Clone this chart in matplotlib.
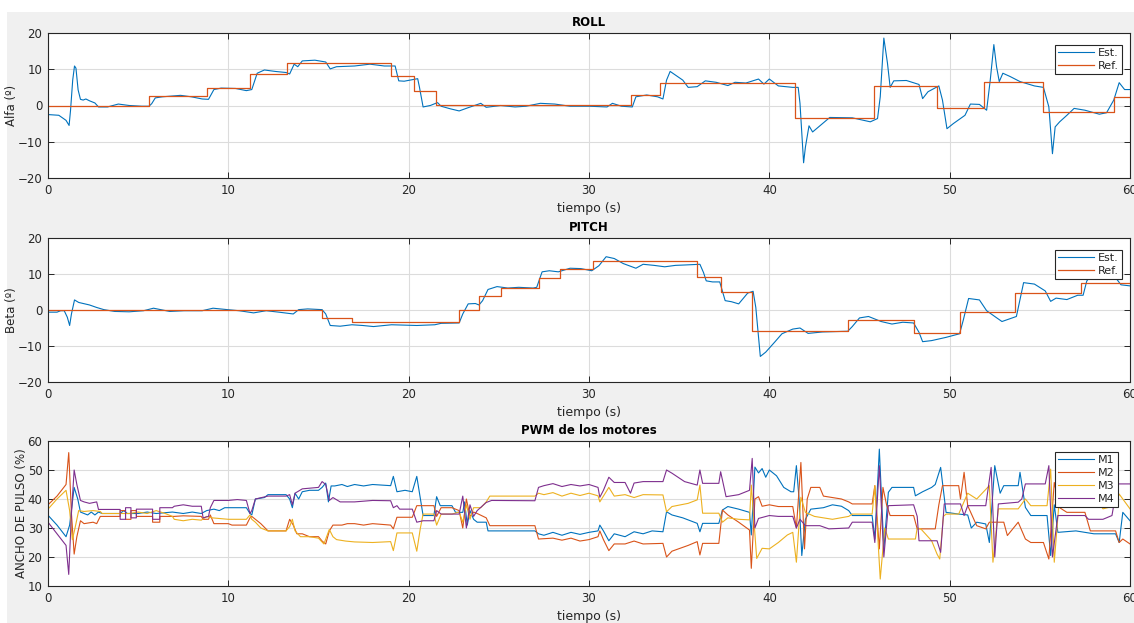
import numpy as np
import matplotlib
matplotlib.use("Agg")
import matplotlib.pyplot as plt
from matplotlib.patches import Rectangle

# ---------------- data ----------------
roll_est = [(0,-2.5),(0.6,-2.7),(1.0,-4.1),(1.17,-5.5),(1.25,-1.3),(1.37,7),(1.47,10.9),(1.55,10.3),
    (1.67,4.3),(1.8,1.7),(1.95,1.5),(2.1,1.8),(2.3,1.3),(2.6,0.7),(2.8,-0.4),(3.3,-0.4),(3.9,0.4),
    (4.5,0),(5.2,-0.2),(5.6,-0.2),(5.75,0.5),(5.95,2.1),(6.35,2.4),(7.35,2.8),(7.95,2.4),(8.55,1.8),
    (8.9,1.7),(9.2,4.4),(9.6,4.8),(10.4,4.7),(11.0,4.1),(11.3,4.4),(11.6,8.9),(12.0,9.8),(12.6,9.4),
    (13.2,9.1),(13.4,8.7),(13.65,11.4),(13.85,10.7),(14.1,12.3),(14.8,12.5),(15.4,12.0),(15.65,10.1),
    (16.0,10.7),(17.0,10.9),(17.85,11.4),(18.65,10.9),(19.25,10.9),(19.45,6.8),(19.75,6.7),(20.5,7.4),
    (20.6,5.0),(20.8,-0.4),(21.2,0),(21.6,0.8),(21.8,-0.2),(22.3,-0.9),(22.8,-1.5),(23.3,-0.6),
    (24.0,0.6),(24.3,-0.5),(25.1,0),(25.9,-0.4),(26.5,-0.2),(27.3,0.6),(28.1,0.4),(28.95,-0.2),
    (30,-0.2),(31,-0.4),(31.3,0.6),(31.8,-0.2),(32.4,-0.4),(32.6,2.4),(33.2,2.9),(33.8,2.4),(34.1,1.8),
    (34.3,7.0),(34.5,9.4),(35.2,7.0),(35.5,5.0),(36.0,5.2),(36.45,6.8),(37.05,6.4),(37.7,5.5),(38.1,6.4),
    (38.7,6.2),(39.4,7.3),(39.7,5.9),(40.0,7.3),(40.5,5.4),(41.3,5.0),(41.6,5.0),(41.7,0.6),(41.9,-15.8),
    (42.0,-11.5),(42.2,-5.6),(42.4,-7.3),(42.95,-5.0),(43.35,-3.3),(44.6,-3.4),(45.6,-4.5),(46.0,-3.6),
    (46.15,2.4),(46.35,18.6),(46.55,11.7),(46.7,5.0),(46.9,6.8),(47.6,6.9),(48.3,5.8),(48.5,1.9),
    (48.8,3.8),(49.4,5.4),(49.6,1.5),(49.85,-6.4),(50.2,-5.0),(50.85,-2.7),(51.15,0.4),(51.65,0.3),
    (52.05,-1.3),(52.25,7.0),(52.45,16.8),(52.6,10.7),(52.75,6.6),(52.95,8.9),(53.35,8.0),(53.9,6.6),
    (54.7,5.4),(55.2,5.0),(55.5,-0.4),(55.7,-13.3),(55.85,-5.9),(56.1,-4.5),(56.5,-2.7),(56.9,-0.8),
    (57.5,-1.3),(58.3,-2.4),(58.7,-2.0),(59.1,1.5),(59.4,6.3),(59.7,4.4),(60,4.4)]

roll_ref_t = [0, 5.6, 8.8, 11.2, 13.25, 19.0, 20.3, 21.5, 32.35, 33.95, 41.45, 45.8, 49.3, 51.9, 55.2, 59.1, 60]
roll_ref_v = [0, 2.6, 4.9, 8.7, 11.6, 8.2, 3.9, 0.2, 3.0, 6.1, -3.5, 5.5, -0.8, 6.4, -1.9, 2.4, 2.4]

pitch_est = [(0,-0.6),(0.5,-0.6),(0.7,-0.2),(0.9,-0.2),(1.07,-2.0),(1.2,-4.3),(1.3,-1.1),(1.47,2.8),
    (1.7,2.1),(2.3,1.4),(2.7,0.7),(3.1,0.1),(3.7,-0.4),(4.5,-0.5),(5.3,-0.2),(5.85,0.5),(6.35,0),
    (6.75,-0.4),(7.55,-0.2),(8.55,-0.2),(9.15,0.5),(9.95,0.1),(10.6,-0.2),(11.4,-0.8),(12.1,-0.2),
    (12.8,-0.6),(13.6,-1.1),(13.9,0.1),(14.4,0.3),(15.2,0.1),(15.4,-1.1),(15.65,-4.3),(16.2,-4.5),
    (16.85,-4.1),(17.45,-4.3),(18.05,-4.6),(19.05,-4.1),(20.45,-4.3),(21.45,-4.1),(21.8,-3.7),
    (22.8,-3.6),(23.0,-1.1),(23.3,1.7),(23.7,1.8),(23.9,1.4),(24.1,2.6),(24.4,5.7),(24.9,6.5),
    (25.5,6.1),(26.1,6.3),(26.9,6.1),(27.1,6.3),(27.4,10.6),(27.8,10.9),(28.3,10.6),(28.95,11.6),
    (29.55,11.5),(30.15,10.9),(30.55,12.3),(30.95,14.8),(31.4,14.3),(31.9,12.9),(32.6,11.6),(33.0,12.7),
    (33.6,12.4),(34.2,12.0),(34.8,12.4),(35.3,12.5),(36.15,12.7),(36.35,10.4),(36.5,8.1),(36.85,7.8),
    (37.25,7.8),(37.55,2.6),(37.9,2.3),(38.3,1.7),(38.8,4.7),(39.1,5.2),(39.25,0.7),(39.5,-12.9),
    (39.8,-11.7),(40.3,-8.9),(40.7,-6.6),(41.3,-5.3),(41.7,-5.0),(42.15,-6.5),(42.95,-6.1),(44.35,-5.9),
    (44.6,-4.6),(45.0,-2.2),(45.5,-1.8),(46.2,-3.2),(46.8,-3.9),(47.4,-3.4),(48.0,-3.6),(48.3,-6.2),
    (48.5,-8.8),(49.0,-8.5),(49.8,-7.6),(50.55,-6.6),(50.75,-2.9),(51.05,3.2),(51.65,2.8),(52.05,-0.2),
    (52.5,-1.8),(52.9,-3.2),(53.3,-2.5),(53.7,-1.8),(54.1,7.6),(54.7,7.2),(55.3,5.3),(55.6,2.4),
    (55.9,3.3),(56.5,2.9),(57.1,4.1),(57.4,4.1),(57.6,8.0),(57.9,10.3),(58.5,10.5),(59.2,9.0),
    (59.5,7.0),(60,6.7)]

pitch_ref_t = [0, 15.2, 16.85, 22.8, 23.9, 25.1, 27.2, 28.4, 30.2, 36.0, 37.3, 39.05, 44.35, 48.0, 50.6, 53.6, 57.3, 60]
pitch_ref_v = [0, -2.3, -3.4, 0, 4.0, 6.2, 9.0, 11.4, 13.5, 9.2, 5.1, -5.9, -2.7, -6.4, -0.6, 4.6, 7.5, 7.5]

m1 = [(0,34.4),(0.5,31),(1.0,27),(1.2,31),(1.45,44),(1.65,40),(1.8,35.5),(2.2,34.5),(2.4,35.5),
    (2.6,34.5),(2.8,35.5),(3.0,35),(4.0,35),(4.2,36),(4.4,35),(5.0,35),(5.5,35.5),(6.0,35),(6.9,35.5),
    (7.5,35),(8.0,35.5),(8.5,35),(8.8,36),(9.2,36.5),(9.5,36),(9.8,37),(11.0,37),(11.2,35),(11.3,34.5),
    (11.5,40),(12.0,40.5),(12.2,41.5),(13.2,41.5),(13.4,40),(13.55,37),(13.7,42),(13.9,40),(14.1,42.5),
    (14.5,43),(15.0,43),(15.2,44),(15.4,45.5),(15.55,39),(15.7,44.5),(15.9,44.5),(16.3,45),(16.6,44.3),
    (17.0,45),(17.5,44.5),(18.0,45),(19.0,44.6),(19.15,47.8),(19.35,42.5),(19.8,43),(20.2,42.5),
    (20.45,47.8),(20.65,40),(20.8,34.3),(21.4,34.3),(21.55,40.8),(21.75,37.7),(22.4,37.7),(22.6,35.4),
    (23.0,35.4),(23.1,39),(23.25,31),(23.4,36),(23.6,33),(23.8,32),(24.3,32),(24.4,29),(27.0,29),
    (27.2,28),(27.5,27.5),(28,28.5),(28.5,27.5),(29,28.5),(29.5,27.8),(30.0,28.5),(30.5,29),(30.6,31),
    (30.8,29),(31.1,25.6),(31.4,28),(32,27),(32.5,28.7),(33,28),(33.5,29),(34.1,28.7),(34.3,35.6),
    (34.6,34.5),(35.2,33.5),(36.0,31.6),(36.15,28.7),(36.3,31.6),(37.2,31.6),(37.4,36.2),(37.7,37.4),
    (38.3,36.5),(38.9,35.4),(39.0,27.6),(39.2,51),(39.4,49),(39.6,50.5),(39.8,47.5),(40.0,50),
    (40.4,48),(40.8,44),(41.2,42.5),(41.35,42.5),(41.5,51.5),(41.65,40),(41.8,20.5),(42.0,33),
    (42.3,36.5),(43.0,37),(43.5,38),(44.0,37.5),(44.4,36),(44.6,34.3),(45.7,34.3),(45.85,26.2),
    (46.1,57.2),(46.35,22.8),(46.6,42.3),(46.8,44),(48.0,44),(48.1,41.1),(48.5,42.5),(49.0,44),
    (49.2,45),(49.5,50.9),(49.8,35.4),(50.5,34.8),(51.0,34.5),(51.2,30),(51.5,32),(52.0,31.4),
    (52.2,25),(52.5,51.5),(52.8,42),(53.0,44.6),(53.8,44.6),(53.9,49.2),(54.2,37.1),(54.5,34.3),
    (55.4,34.3),(55.6,20.5),(55.8,38),(56.0,28.5),(57.0,29),(58.0,28),(59.2,28),(59.4,25),(59.6,35.4),
    (60.0,32.5)]

m2 = [(0,38),(0.5,41),(1.0,45),(1.15,56),(1.3,35),(1.45,21),(1.6,27),(1.8,32.5),(2.0,31.5),(2.5,32),
    (2.7,31.5),(2.9,34),(4.0,34),(4.0,36),(4.3,36),(4.3,33),(4.6,33),(4.6,36),(4.9,36),(4.9,34),(5.8,34),
    (5.8,32),(6.2,32),(6.2,34),(7.0,34),(7.5,34.2),(8.5,34),(8.6,33),(8.9,33),(9.0,34.5),(9.2,31.5),
    (10.0,31.5),(10.2,31),(11.0,31),(11.2,33.5),(11.3,34),(11.5,33),(11.8,31.5),(12.2,29),(13.2,29),
    (13.4,33),(13.6,31),(13.8,28),(14.1,28),(14.5,27),(15.0,27),(15.2,25.5),(15.4,24.5),(15.6,29),
    (15.8,31),(16.3,31),(16.6,31.5),(17.0,31.5),(17.5,31),(18.0,31.5),(19.0,31),(19.15,29.7),
    (19.35,33.7),(20.2,33.7),(20.45,37.7),(21.4,37.7),(21.55,34),(21.8,37),(22.4,37),(22.8,36),
    (23.0,30),(23.2,40),(23.4,34),(23.6,35.5),(23.8,35),(24.3,33.5),(24.5,30.8),(27.0,30.8),(27.2,26.2),
    (28,26.5),(28.5,25.8),(29,26.5),(29.5,25.5),(30,26),(30.5,27),(30.6,29),(30.8,26),(31.1,22.2),
    (31.4,24.5),(32,24.5),(32.5,25.5),(33,24.5),(34.1,24.7),(34.3,20),(34.6,22),(35.5,24),(36.0,25.3),
    (36.15,20.7),(36.3,24.7),(37.2,24.7),(37.4,36.2),(37.7,34.5),(38.3,32),(38.9,29.3),(39.0,16.1),
    (39.2,40),(39.4,40.8),(39.6,37.5),(40,38),(40.5,37.4),(41.3,37.4),(41.5,30),(41.75,52.6),
    (41.95,22.8),(42.1,40),(42.3,44),(42.8,44),(43.0,41),(43.5,40.5),(44.0,40),(44.4,39),(44.6,38.3),
    (45.7,38.3),(45.85,44.6),(46.1,22.8),(46.3,44),(46.5,38),(46.7,34.3),(48.0,34.3),(48.2,29.7),
    (49.2,29.7),(49.4,38),(49.6,44.6),(50.5,44.6),(50.6,40),(50.8,49.2),(51.0,37.7),(51.5,30.8),
    (52.0,29.7),(52.2,32),(53.0,32),(53.2,27.4),(53.8,32),(54.2,26.2),(54.5,25),(55.2,25),(55.5,19.3),
    (55.8,45.7),(56.1,37),(56.5,35.4),(57.5,35.4),(57.8,29),(59.2,29),(59.4,25),(59.6,26.2),(60,24.5)]

m3 = [(0,36.5),(0.5,40),(1.0,43),(1.2,36),(1.35,26),(1.5,30),(1.7,36),(2.0,35.7),(2.5,36),(2.9,35.7),
    (3.0,35),(4.5,35),(5.0,35.5),(5.5,35),(6.0,36),(6.5,35),(6.9,34),(7.0,33),(7.5,32.5),(8.0,33),
    (8.5,32.7),(8.8,34),(9.1,33.5),(10.0,33),(11.0,33),(11.2,34.5),(11.3,33),(11.5,32),(11.8,30),
    (12.2,29),(13.2,29),(13.4,30.5),(13.55,33),(13.7,29),(14.0,27),(14.5,27),(15.0,26.5),(15.3,24.5),
    (15.6,29.5),(15.8,27),(16.0,26),(16.5,25.5),(17,25.2),(18,25),(19.0,25.3),(19.15,22.2),(19.35,28.3),
    (20.2,28.3),(20.45,22),(20.65,30),(20.8,34.8),(21.4,34.8),(21.55,31),(21.8,34.8),(22.4,34.8),
    (22.8,35.5),(23.0,32),(23.2,38),(23.4,33),(23.6,37),(24.0,37),(24.3,39),(24.5,41),(27.0,41),
    (27.2,42),(27.5,41.5),(28,42.2),(28.5,41),(29,42),(29.5,41.2),(30,42),(30.5,41.1),(30.6,39),
    (30.8,41),(31.1,44),(31.4,41),(32,41.5),(32.5,40.5),(33,41.5),(34.1,41.4),(34.3,35.6),(34.6,37.4),
    (35.5,38.5),(36.0,39.7),(36.15,44.8),(36.3,35.1),(37.2,35.1),(37.4,32),(37.7,33.5),(38.3,33),
    (38.9,32.8),(39.0,44.8),(39.3,19.5),(39.6,23),(40.0,22.8),(40.5,25),(41.0,27.6),(41.3,28.5),
    (41.5,18.2),(41.75,40.6),(42.0,35.4),(42.5,34),(43.5,33),(44.4,34),(44.6,34.8),(45.7,34.8),
    (45.85,44.6),(46.15,12.4),(46.4,30),(46.6,26.2),(48.1,26.2),(48.2,30),(48.4,29.7),(49.0,25.6),
    (49.3,21),(49.45,19.3),(49.65,34),(49.8,34.8),(50.5,34.8),(51.0,42),(51.5,40),(52.2,44.6),
    (52.4,18.2),(52.7,36.6),(53.8,36.6),(54.2,40),(54.5,37.7),(55.4,37.7),(55.6,50.3),(55.8,18.2),
    (56.1,41.7),(56.5,41),(58.0,41),(58.5,36.6),(59.2,37.7),(59.4,41.7),(60,36.6)]

m4 = [(0,32),(0.5,28),(1.0,24),(1.15,14),(1.3,35),(1.45,50),(1.6,45),(1.8,39.5),(2.0,39),(2.3,38.5),
    (2.7,39),(2.8,36.4),(4.0,36.4),(4.0,33),(4.3,33),(4.3,37),(4.6,37),(4.6,33.5),(4.9,33.5),(4.9,36.5),
    (5.8,36.5),(5.8,33),(6.2,33),(6.2,37),(6.9,37),(7.0,37.5),(7.5,38),(8.0,37.5),(8.5,37.5),(8.6,33.5),
    (8.9,34),(9.0,37),(9.2,39.5),(10.0,39.5),(10.5,39.8),(11.0,39.5),(11.2,35),(11.3,36),(11.5,40),
    (12.2,41),(13.2,41),(13.4,41.5),(13.55,38),(13.7,42),(14.1,43.5),(15.0,44),(15.2,46),(15.4,45),
    (15.6,39.5),(15.8,40.5),(16.2,39),(17,39),(18,39.5),(19.0,39.4),(19.15,37),(19.35,37.7),(19.5,36.5),
    (20.2,36.5),(20.45,32),(20.8,32.5),(21.4,32.5),(21.55,36),(21.8,34.8),(22.8,34.8),(23.0,41),
    (23.2,30),(23.4,38),(23.6,34),(23.8,36),(24.3,38.8),(24.6,39.5),(27.0,39.4),(27.2,44),(27.5,44.6),
    (28,45.3),(28.5,44.3),(29,45),(29.5,44.5),(30,45),(30.5,44),(30.6,40.6),(30.8,43),(31.1,47.5),
    (31.4,45.7),(32,45.7),(32.3,42),(32.5,45.5),(33,46),(34.1,46),(34.3,50),(34.6,48.9),(35.3,46),
    (36.0,44.8),(36.15,50),(36.3,45.4),(37.2,45.4),(37.3,49.4),(37.6,40.8),(38.3,41.5),(38.9,43),
    (39.05,54),(39.2,30),(39.4,33.3),(40.0,34.3),(40.5,34),(41.3,34),(41.5,30),(41.7,33),(42.0,30.8),
    (42.8,30.8),(43.3,29.7),(44.4,30),(44.6,32),(45.7,32),(45.85,25),(46.1,51.5),(46.35,20),(46.6,37.7),
    (48.0,38),(48.2,34),(48.3,25.6),(49.3,25.6),(49.5,21.6),(49.7,38.3),(50.6,38.3),(50.8,34.3),
    (51.0,37.7),(52.0,37.7),(52.3,50.9),(52.5,20),(52.7,38.3),(53.8,38.9),(54.0,40),(54.2,45.2),
    (55.3,45.2),(55.5,51.5),(55.7,20),(56.0,34.3),(57.5,34.3),(57.7,33),(58.5,33),(59.0,34.3),
    (59.3,45.2),(60,45.2)]

motor_labels = ["M1", "M2", "M3", "M4"]

# ---------------- styling ----------------
C_BLUE = "#0072BD"
C_ORANGE = "#D95319"
C_YELLOW = "#EDB120"
C_PURPLE = "#7E2F8E"
TXT = "#262626"
FIG_W, FIG_H = 1134, 623

plt.rcParams['font.family'] = ['DejaVu Sans']
fig = plt.figure(figsize=(FIG_W / 100, FIG_H / 100), dpi=100, facecolor="white")
fig.patches.append(Rectangle((7 / FIG_W, 0), 1, 1 - 12 / FIG_H, transform=fig.transFigure,
                             facecolor="#f0f0f0", edgecolor="none", zorder=-10))

def px_axes(left, top, right, bottom):
    return fig.add_axes([left / FIG_W, 1 - bottom / FIG_H, (right - left) / FIG_W, (bottom - top) / FIG_H])

def style(ax, ylim, yticks, title, ylabel):
    ax.set_facecolor("white")
    ax.set_xlim(0, 60)
    ax.set_ylim(*ylim)
    ax.set_xticks(range(0, 61, 10))
    ax.set_yticks(yticks)
    ax.grid(True, color="#dcdcdc", linewidth=0.8)
    ax.set_axisbelow(True)
    ax.tick_params(direction="in", length=4, width=0.7, colors=TXT, labelsize=8.5,
                   top=True, right=True, pad=4)
    for s in ax.spines.values():
        s.set_color(TXT)
        s.set_linewidth(0.8)
    ax.set_title(title, fontsize=8.5, fontweight="bold", color="black", pad=5)
    ax.set_xlabel("tiempo (s)", fontsize=9, color=TXT, labelpad=4)
    ax.set_ylabel(ylabel, fontsize=8.5, color=TXT, labelpad=0)

def legend(ax, anchor):
    lg = ax.legend(loc="upper right", bbox_to_anchor=anchor, fontsize=8, frameon=True,
                   fancybox=False, framealpha=1, edgecolor=TXT, handlelength=3.2,
                   handletextpad=0.4, borderpad=0.3, labelspacing=0.25, borderaxespad=0)
    lg.get_frame().set_linewidth(0.8)
    for t in lg.get_texts():
        t.set_color(TXT)

def unzip(pairs):
    return [p[0] for p in pairs], [p[1] for p in pairs]

# ROLL
ax1 = px_axes(48, 33, 1130, 178)
t, v = unzip(roll_est)
ax1.plot(t, v, color=C_BLUE, lw=0.8, label="Est.")
ax1.step(roll_ref_t, roll_ref_v, where="post", color=C_ORANGE, lw=0.9, label="Ref.")
style(ax1, (-20, 20), [-20, -10, 0, 10, 20], "ROLL", "Alfa (º)")
legend(ax1, (0.993, 0.92))

# PITCH
ax2 = px_axes(48, 238, 1130, 382)
t, v = unzip(pitch_est)
ax2.plot(t, v, color=C_BLUE, lw=0.8, label="Est.")
ax2.step(pitch_ref_t, pitch_ref_v, where="post", color=C_ORANGE, lw=0.9, label="Ref.")
style(ax2, (-20, 20), [-20, -10, 0, 10, 20], "PITCH", "Beta (º)")
legend(ax2, (0.993, 0.92))

# PWM
ax3 = px_axes(48, 441, 1130, 586)
for data, col, lab in zip([m1, m2, m3, m4], [C_BLUE, C_ORANGE, C_YELLOW, C_PURPLE], motor_labels):
    t, v = unzip(data)
    ax3.plot(t, v, color=col, lw=0.8, label=lab)
style(ax3, (10, 60), [10, 20, 30, 40, 50, 60], "PWM de los motores", "ANCHO DE PULSO (%)")
legend(ax3, (0.989, 0.925))

fig.savefig("out.png", dpi=100, facecolor=fig.get_facecolor())
